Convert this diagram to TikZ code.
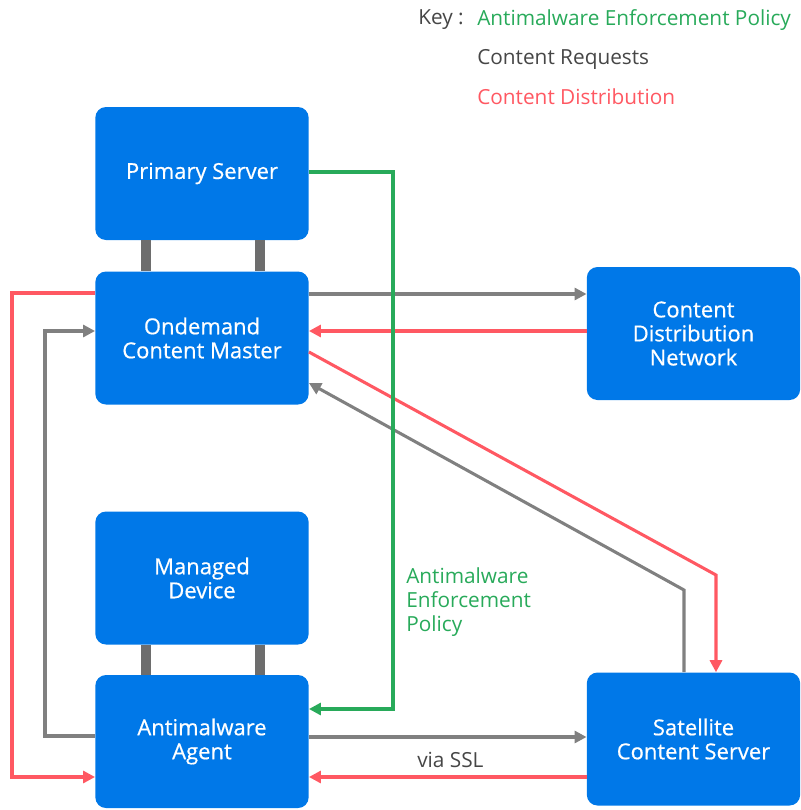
\documentclass[tikz,border=0pt]{standalone}
\usepackage{fontspec}
\setmainfont{Open Sans}
\newfontfamily\boxfont{Open Sans}[FakeBold=0.6]
\usetikzlibrary{arrows.meta}
\definecolor{boxblue}{RGB}{0,120,232}
\definecolor{policygreen}{RGB}{40,170,90}
\definecolor{requestgray}{RGB}{128,128,128}
\definecolor{distred}{RGB}{255,88,98}
\definecolor{keytext}{RGB}{70,70,70}

\tikzset{
  server/.style={fill=boxblue, rounded corners=8pt, minimum width=160pt, minimum height=99.75pt,
    text=white, align=center, inner sep=0pt, font=\boxfont\fontsize{16.5pt}{18pt}\selectfont},
  link/.style={line width=2.3pt},
  tip/.style={-{Triangle[length=9pt,width=9pt]}},
  bar/.style={line width=7pt, draw=requestgray!85!black},
  keylabel/.style={anchor=west, inner sep=0.75pt, font=\fontsize{15.6pt}{18pt}\selectfont}
}

\begin{document}
\begin{tikzpicture}[x=0.75pt,y=0.75pt,yscale=-1,xscale=1]
\useasboundingbox (0,0) rectangle (800,810);

%Shape: Rounded Rect [id:primary]
\node[server] (ps) at (202,173.5) {Primary Server};
%Shape: Rounded Rect [id:master]
\node[server] (ocm) at (202,338) {Ondemand\\Content Master};
%Shape: Rounded Rect [id:cdn]
\node[server] (cdn) at (693.5,333.5) {Content\\Distribution\\Network};
%Shape: Rounded Rect [id:device]
\node[server] (md) at (202,578) {Managed\\Device};
%Shape: Rounded Rect [id:agent]
\node[server] (agent) at (202,741.5) {Antimalware\\Agent};
%Shape: Rounded Rect [id:satellite]
\node[server] (scs) at (693.5,739) {Satellite\\Content Server};

%Straight Lines: bars
\draw[bar] (ps.south -| 146,0) -- (ocm.north -| 146,0);
\draw[bar] (ps.south -| 260,0) -- (ocm.north -| 260,0);
\draw[bar] (md.south -| 146,0) -- (agent.north -| 146,0);
\draw[bar] (md.south -| 260,0) -- (agent.north -| 260,0);

% bend points
\coordinate (redL) at (12,293);
\coordinate (redLb) at (12,777);
\coordinate (grayL) at (45,736);
\coordinate (grayLt) at (45,331);
\coordinate (greenR) at (393,172);
\coordinate (greenRb) at (393,709);
\coordinate (redD) at (716,575);
\coordinate (grayD) at (684,590);

%Straight Lines: content distribution (red)
\draw[link, distred, tip] (ocm.west |- redL) -- (redL) -- (redLb) -- (agent.west |- redLb);
\draw[link, distred, tip] (cdn.west |- 0,331) -- (ocm.east |- 0,331);
\draw[link, distred, tip] (ocm.east |- 0,352) -- (redD) -- (scs.north -| redD);
\draw[link, distred, tip] (scs.west |- 0,777) -- (agent.east |- 0,777);

%Straight Lines: content requests (gray)
\draw[link, requestgray, tip] (agent.west |- grayL) -- (grayL) -- (grayLt) -- (ocm.west |- grayLt);
\draw[link, requestgray, tip] (ocm.east |- 0,294) -- (cdn.west |- 0,294);
\draw[link, requestgray, tip] (scs.north -| grayD) -- (grayD) -- (ocm.east |- 0,383);
\draw[link, requestgray, tip] (agent.east |- 0,737) -- (scs.west |- 0,737);

%Straight Lines: policy (green)
\draw[link, policygreen, tip] (ps.east |- greenR) -- (greenR) -- (greenRb) -- (agent.east |- greenRb);

% Text Node
\node[keylabel, text=policygreen, align=left] (policy) at (405,602) {Antimalware\\Enforcement\\Policy};
% Text Node
\node[keylabel, text=keytext] (ssl) at (416,760) {via SSL};

% Text Node
\node[keylabel, text=keytext, anchor=east] (key) at (465,20) {Key :};
% Text Node
\node[keylabel, text=policygreen] (keyA) at (476,20) {Antimalware Enforcement Policy};
% Text Node
\node[keylabel, text=keytext] (keyB) at (476,59) {Content Requests};
% Text Node
\node[keylabel, text=distred] (keyC) at (476,97) {Content Distribution};

\end{tikzpicture}
\end{document}
